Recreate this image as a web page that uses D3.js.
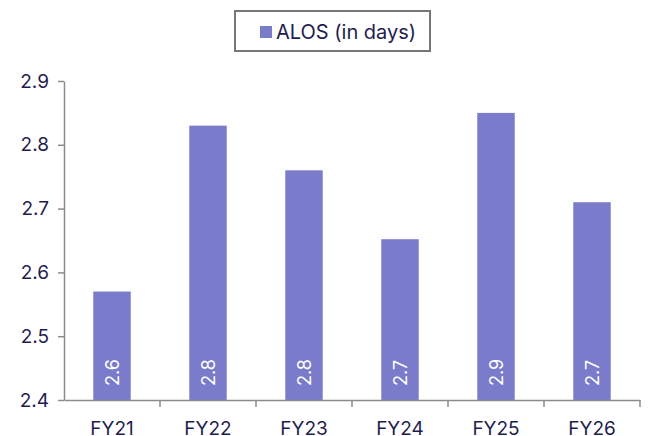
<!DOCTYPE html>
<html><head><meta charset="utf-8">
<script src="https://cdn.jsdelivr.net/npm/d3@7"></script>
<style>body{margin:0;background:#fff}svg{display:block}</style>
</head><body>
<svg id="c" width="648" height="436"></svg>
<script>
const categories = ["FY21","FY22","FY23","FY24","FY25","FY26"];
const values = [2.57,2.83,2.76,2.652,2.85,2.71];
const yTicks = [2.4,2.5,2.6,2.7,2.8,2.9];
const seriesName = "ALOS (in days)";

const svg = d3.select("#c");
const font = "Inter, 'Noto Sans', sans-serif";
const textColor = "#1f1d4f";
const barColor = "#7b7bcb";
const axisColor = "#8c8c8c";

const x = d3.scaleBand().domain(categories).range([64, 640]).paddingInner(0.61).paddingOuter(0.305);
const xb = d3.scaleBand().domain(categories).range([64, 640]);
const y = d3.scaleLinear().domain([2.4, 2.9]).range([400, 81]);

// bars
svg.selectAll("rect.bar").data(values).join("rect")
  .attr("class","bar")
  .attr("x",(d,i)=>x(categories[i]))
  .attr("width",x.bandwidth())
  .attr("y",d=>y(d))
  .attr("height",d=>y(2.4)-y(d))
  .attr("fill",barColor);

// value labels rotated
svg.selectAll("text.val").data(values).join("text")
  .attr("class","val")
  .attr("transform",(d,i)=>`translate(${x(categories[i])+x.bandwidth()/2+7},${y(2.4)-14}) rotate(-90)`)
  .attr("fill","#fff").attr("font-family",font).attr("font-size",18)
  .text(d=>(Math.round(d*10)/10).toFixed(1));

// y axis
const yAxis = svg.append("g").attr("transform","translate(64,0)")
  .call(d3.axisLeft(y).tickValues(yTicks).tickSize(6).tickSizeOuter(0).tickFormat(d3.format(".1f")));
yAxis.select(".domain").attr("stroke",axisColor).attr("stroke-width",1.5);
yAxis.selectAll(".tick line").attr("stroke",axisColor).attr("stroke-width",1.5);
yAxis.selectAll(".tick text").attr("fill",textColor).attr("font-family",font).attr("font-size",19).attr("x",-15);

// x axis
const xAxis = svg.append("g").attr("transform","translate(0,400)")
  .call(d3.axisBottom(xb).tickSize(0).tickSizeOuter(0));
xAxis.select(".domain").attr("stroke",axisColor).attr("stroke-width",1.5);
xAxis.selectAll(".tick text").attr("fill",textColor).attr("font-family",font).attr("font-size",19).attr("dy","0").attr("y",35);
// boundary ticks
svg.append("g").selectAll("line").data(categories).join("line")
  .attr("x1",d=>xb(d)+xb.bandwidth()).attr("x2",d=>xb(d)+xb.bandwidth())
  .attr("y1",400).attr("y2",407).attr("stroke",axisColor).attr("stroke-width",1.5);

// legend
const lg = svg.append("g");
lg.append("rect").attr("x",235).attr("y",11).attr("width",195).attr("height",40)
  .attr("fill","#fff").attr("stroke","#777").attr("stroke-width",2);
lg.append("rect").attr("x",260).attr("y",26).attr("width",12).attr("height",12).attr("fill",barColor);
lg.append("text").attr("x",276).attr("y",39).attr("fill",textColor).attr("font-family",font).attr("font-size",20).text(seriesName);
</script>
</body></html>
